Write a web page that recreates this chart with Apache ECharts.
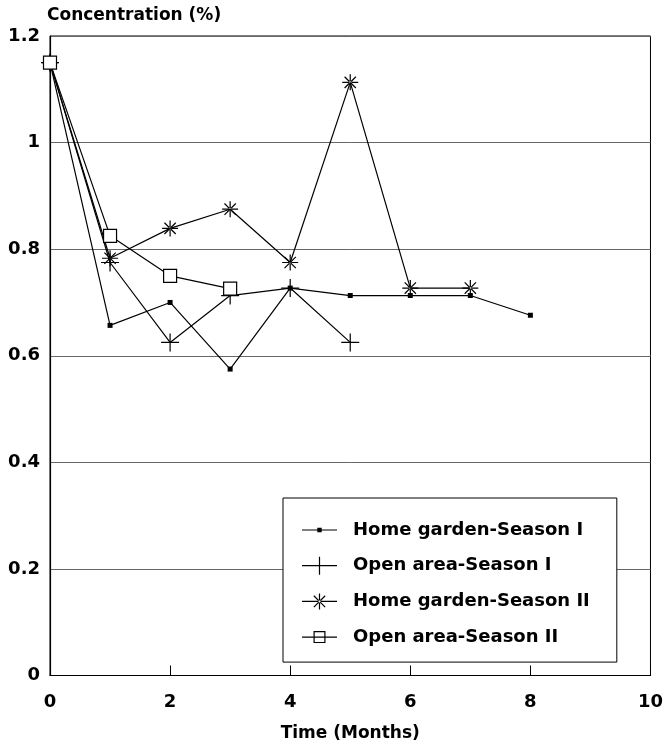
<!DOCTYPE html>
<html>
<head>
<meta charset="utf-8">
<script src="https://cdn.jsdelivr.net/npm/echarts@6/dist/echarts.min.js"></script>
<style>html,body{margin:0;padding:0;background:#fff;}#c{width:666px;height:747px;}</style>
</head>
<body>
<div id="c"></div>
<script>
// ---- data ----
var months = [0, 1, 2, 3, 4, 5, 6, 7, 8];
var homeGardenS1 = [1.15, 0.657, 0.700, 0.575, 0.727, 0.713, 0.713, 0.713, 0.676];
var openAreaS1   = [1.15, 0.775, 0.625, 0.713, 0.727, 0.625];
var homeGardenS2 = [1.15, 0.783, 0.839, 0.875, 0.775, 1.113, 0.727, 0.727];
var openAreaS2   = [1.15, 0.825, 0.750, 0.726];
var seriesNames = ['Home garden-Season I', 'Open area-Season I', 'Home garden-Season II', 'Open area-Season II'];
var xTicks = [0, 2, 4, 6, 8, 10];
var yTicks = [0, 0.2, 0.4, 0.6, 0.8, 1, 1.2];
var yTitle = 'Concentration (%)';
var xTitle = 'Time (Months)';

function pairs(vals) { return vals.map(function (v, i) { return [months[i], v]; }); }

var FONT = 'DejaVu Sans';
var plusPath = 'path://M-0.6,-9H0.6V9H-0.6Z M-9,-0.6H9V0.6H-9Z';
var starPath = 'path://M-0.6,-8H0.6V8H-0.6Z M-8,-0.6H8V0.6H-8Z ' +
  'M-6.081,-5.233L5.233,6.081L6.081,5.233L-5.233,-6.081Z ' +
  'M-5.233,6.081L6.081,-5.233L5.233,-6.081L-6.081,5.233Z';

// legend icons (line + marker), 35 x 18 box
var lineP = 'M0,8.4H35V9.6H0Z ';
var iconHome1 = 'path://' + lineP + 'M15.3,6.8H19.7V11.2H15.3Z';
var iconOpen1 = 'path://' + lineP + 'M16.9,0H18.1V18H16.9Z';
var iconHome2 = 'path://' + lineP + 'M16.9,1H18.1V17H16.9Z ' +
  'M11.42,3.76L22.74,15.08L23.58,14.24L12.26,2.92Z M12.26,15.08L23.58,3.76L22.74,2.92L11.42,14.24Z';
var iconOpen2 = 'path://' + lineP + 'M11.5,3H23.5V15H11.5Z M12.7,4.2V13.8H22.3V4.2Z';

var chart = echarts.init(document.getElementById('c'), null, { renderer: 'canvas' });
var lineStyle = { color: '#000', width: 1.2 };
chart.setOption({
  animation: false,
  backgroundColor: '#fff',
  title: {
    text: yTitle, left: 47, top: 7, padding: 0,
    textStyle: { fontFamily: FONT, fontWeight: 'bold', fontSize: 17, color: '#000' }
  },
  grid: { left: 50, right: 13, top: 36, bottom: 68, show: true, borderColor: '#000', borderWidth: 1, backgroundColor: 'transparent' },
  xAxis: {
    type: 'value', min: xTicks[0], max: xTicks[xTicks.length - 1], interval: 2,
    name: xTitle, nameLocation: 'middle', nameGap: 58,
    nameTextStyle: { fontFamily: FONT, fontWeight: 'bold', fontSize: 17, color: '#000', verticalAlign: 'middle' },
    axisLine: { lineStyle: { color: '#000', width: 1.2 } },
    axisTick: { inside: true, length: 10, lineStyle: { color: '#000', width: 1 } },
    axisLabel: { margin: 18, fontFamily: FONT, fontWeight: 'bold', fontSize: 18, color: '#000' },
    splitLine: { show: false }
  },
  yAxis: {
    type: 'value', min: yTicks[0], max: yTicks[yTicks.length - 1], interval: 0.2,
    axisLine: { show: true, lineStyle: { color: '#000', width: 1.2 } },
    axisTick: { show: false },
    axisLabel: { margin: 10, fontFamily: FONT, fontWeight: 'bold', fontSize: 18, color: '#000',
      formatter: function (v) { return String(Math.round(v * 10) / 10); } },
    splitLine: { show: true, lineStyle: { color: '#666', width: 1 } }
  },
  legend: {
    orient: 'vertical', left: 283, top: 498,
    padding: [23, 27, 16, 19],
    itemWidth: 35, itemHeight: 18, itemGap: 17.7,
    backgroundColor: '#fff', borderColor: '#000', borderWidth: 1, borderRadius: 0,
    selectedMode: false,
    textStyle: { fontFamily: FONT, fontWeight: 'bold', fontSize: 18, color: '#000', padding: [0, 0, 0, 11] },
    data: [
      { name: seriesNames[0], icon: iconHome1, itemStyle: { color: '#000', borderWidth: 0 } },
      { name: seriesNames[1], icon: iconOpen1, itemStyle: { color: '#000', borderWidth: 0 } },
      { name: seriesNames[2], icon: iconHome2, itemStyle: { color: '#000', borderWidth: 0 } },
      { name: seriesNames[3], icon: iconOpen2, itemStyle: { color: '#000', borderWidth: 0 } }
    ]
  },
  series: [
    { name: seriesNames[0], type: 'line', data: pairs(homeGardenS1), symbol: 'rect', symbolSize: 5,
      itemStyle: { color: '#000' }, lineStyle: lineStyle },
    { name: seriesNames[1], type: 'line', data: pairs(openAreaS1), symbol: plusPath, symbolSize: 18,
      itemStyle: { color: '#000', borderWidth: 0 }, lineStyle: lineStyle },
    { name: seriesNames[2], type: 'line', data: pairs(homeGardenS2), symbol: starPath, symbolSize: 16,
      itemStyle: { color: '#000', borderWidth: 0 }, lineStyle: lineStyle },
    { name: seriesNames[3], type: 'line', data: pairs(openAreaS2), symbol: 'rect', symbolSize: 13,
      itemStyle: { color: '#fff', borderColor: '#000', borderWidth: 1.2 }, lineStyle: lineStyle }
  ]
});
</script>
</body>
</html>
